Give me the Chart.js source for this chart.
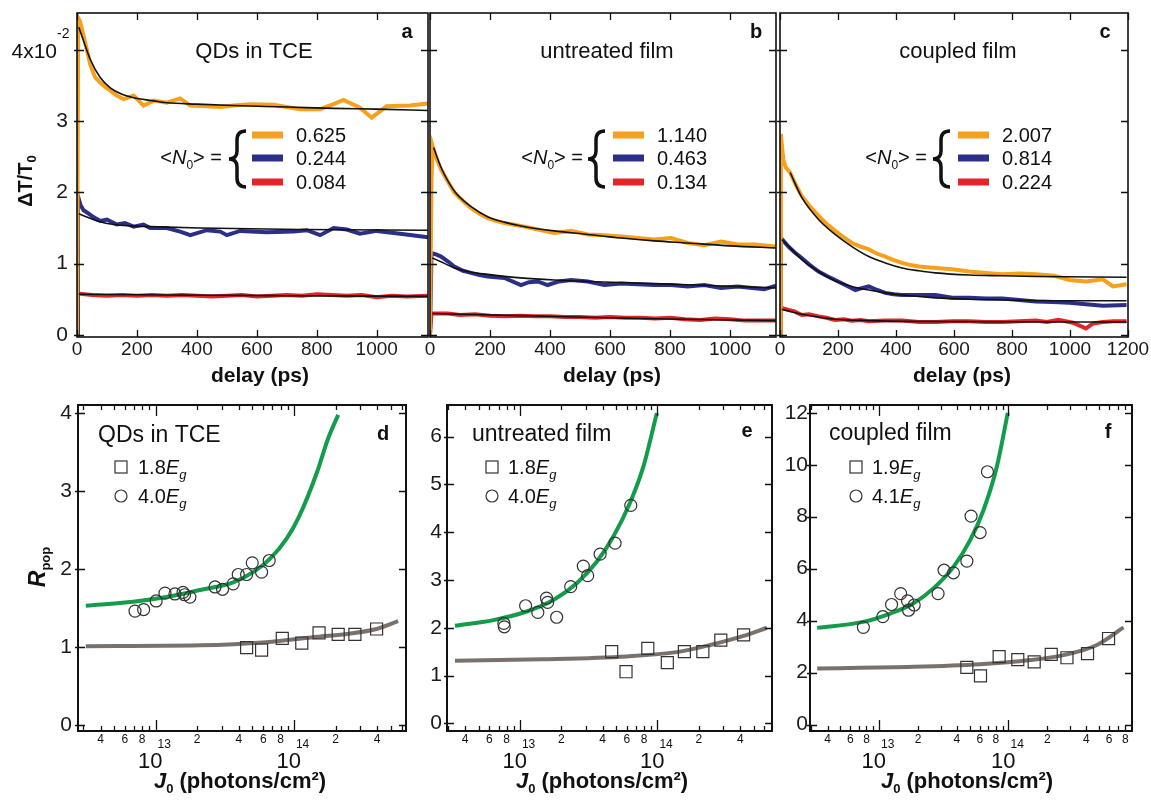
<!DOCTYPE html>
<html>
<head>
<meta charset="utf-8">
<script src="https://cdn.jsdelivr.net/npm/chart.js@4.4.0/dist/chart.umd.min.js"></script>
<style>
  html, body { margin: 0; padding: 0; background: #fff; }
  #wrap { position: relative; width: 1151px; height: 800px; overflow: hidden; }
  #wrap canvas { position: absolute; left: 0; top: 0; }
</style>
</head>
<body>
<div id="wrap">
  <canvas id="ca" width="1151" height="800"></canvas>
  <canvas id="cb" width="1151" height="800"></canvas>
  <canvas id="cc" width="1151" height="800"></canvas>
  <canvas id="cd" width="1151" height="800"></canvas>
  <canvas id="ce" width="1151" height="800"></canvas>
  <canvas id="cf" width="1151" height="800"></canvas>
</div>
<script>
// Transient traces: [delay (ps), ΔT/T0 (x1e-2)]
const aOrange = [[0,0],[4,4.45],[10,4.4],[22,4.2],[44,3.8],[60,3.62],[78,3.54],[95,3.48],[111,3.43],[133,3.36],[156,3.31],[189,3.36],[222,3.22],[256,3.29],[300,3.26],[344,3.32],[378,3.22],[433,3.21],[478,3.2],[522,3.22],[578,3.24],[656,3.23],[744,3.17],[811,3.17],[856,3.24],[889,3.3],[944,3.19],[983,3.05],[1033,3.21],[1111,3.22],[1171,3.25]];
const aOrangeFit = [[6,4.32],[20,4.15],[44,3.87],[78,3.61],[111,3.47],[150,3.38],[189,3.33],[250,3.29],[300,3.26],[400,3.24],[522,3.22],[700,3.2],[856,3.18],[1000,3.17],[1171,3.15]];
const aBlue = [[0,0],[3,1.95],[12,1.82],[22,1.75],[40,1.7],[56,1.65],[78,1.6],[100,1.62],[133,1.55],[160,1.57],[189,1.52],[222,1.55],[244,1.5],[300,1.5],[344,1.45],[378,1.4],[433,1.47],[478,1.45],[500,1.4],[544,1.46],[633,1.44],[722,1.45],[767,1.47],[811,1.4],[856,1.5],[900,1.48],[944,1.42],[1000,1.46],[1078,1.42],[1171,1.37]];
const aBlueFit = [[6,1.7],[30,1.66],[67,1.6],[122,1.55],[180,1.53],[244,1.52],[411,1.5],[744,1.48],[1171,1.47]];
const aRed = [[0,0],[3,0.58],[50,0.56],[100,0.55],[150,0.56],[200,0.55],[250,0.56],[300,0.55],[350,0.56],[400,0.55],[450,0.54],[500,0.55],[550,0.56],[600,0.54],[650,0.55],[700,0.56],[750,0.55],[800,0.57],[850,0.56],[900,0.55],[950,0.56],[1000,0.53],[1050,0.55],[1100,0.54],[1171,0.55]];
const aRedFit = [[6,0.57],[300,0.56],[700,0.55],[1171,0.54]];

const bOrange = [[0,0],[5,2.2],[9,2.65],[20,2.5],[37,2.32],[60,2.15],[81,2.0],[110,1.88],[137,1.78],[165,1.7],[192,1.64],[220,1.6],[248,1.57],[303,1.53],[359,1.48],[414,1.43],[470,1.46],[526,1.41],[581,1.4],[637,1.38],[692,1.36],[748,1.34],[803,1.36],[859,1.29],[914,1.26],[970,1.31],[1026,1.27],[1081,1.27],[1153,1.24]];
const bOrangeFit = [[12,2.63],[37,2.35],[81,2.02],[137,1.8],[192,1.66],[250,1.58],[303,1.53],[414,1.46],[526,1.41],[637,1.36],[748,1.32],[859,1.29],[1000,1.25],[1153,1.22]];
const bBlue = [[0,0],[5,1.15],[20,1.13],[37,1.1],[60,1.03],[81,0.96],[110,0.9],[137,0.87],[165,0.84],[192,0.82],[248,0.8],[303,0.7],[330,0.74],[359,0.75],[392,0.7],[430,0.75],[470,0.77],[526,0.75],[581,0.7],[637,0.72],[692,0.71],[748,0.7],[803,0.7],[859,0.68],[914,0.7],[970,0.66],[1026,0.68],[1114,0.64],[1153,0.69]];
const bBlueFit = [[8,1.08],[40,1.02],[81,0.94],[137,0.88],[192,0.85],[303,0.8],[414,0.77],[526,0.75],[748,0.72],[950,0.69],[1153,0.66]];
const bRed = [[0,0],[5,0.3],[60,0.3],[100,0.28],[150,0.29],[200,0.27],[250,0.26],[300,0.27],[350,0.26],[400,0.26],[450,0.25],[500,0.25],[550,0.24],[600,0.25],[650,0.24],[700,0.24],[750,0.23],[800,0.24],[850,0.22],[900,0.21],[950,0.23],[1000,0.22],[1050,0.2],[1100,0.2],[1153,0.2]];
const bRedFit = [[8,0.3],[300,0.27],[700,0.23],[1153,0.2]];

const cOrange = [[0,0],[3,2.82],[8,2.6],[12,2.45],[20,2.35],[35,2.28],[55,2.1],[75,1.95],[100,1.82],[133,1.67],[160,1.56],[190,1.46],[220,1.37],[248,1.29],[278,1.24],[306,1.2],[335,1.14],[363,1.1],[392,1.05],[421,1.01],[450,0.98],[479,0.96],[536,0.94],[594,0.92],[652,0.89],[710,0.87],[767,0.85],[825,0.86],[882,0.85],[946,0.83],[998,0.77],[1055,0.75],[1113,0.78],[1148,0.68],[1195,0.71]];
const cOrangeFit = [[35,2.28],[75,1.93],[133,1.62],[190,1.41],[248,1.24],[306,1.1],[363,1.01],[421,0.94],[479,0.9],[536,0.87],[652,0.84],[767,0.83],[882,0.82],[1195,0.81]];
const cBlue = [[0,0],[3,1.36],[12,1.32],[29,1.24],[50,1.16],[75,1.08],[100,0.99],[133,0.89],[160,0.83],[190,0.77],[225,0.7],[260,0.63],[285,0.66],[306,0.68],[335,0.63],[363,0.59],[392,0.57],[421,0.56],[479,0.56],[536,0.56],[594,0.52],[652,0.52],[710,0.51],[767,0.51],[825,0.49],[882,0.47],[940,0.46],[998,0.45],[1055,0.43],[1113,0.41],[1195,0.42]];
const cBlueFit = [[6,1.34],[40,1.2],[75,1.06],[133,0.89],[190,0.76],[248,0.68],[306,0.63],[363,0.59],[421,0.56],[536,0.52],[652,0.5],[767,0.49],[1000,0.48],[1195,0.48]];
const cRed = [[0,0],[3,0.38],[30,0.35],[50,0.33],[75,0.28],[100,0.29],[133,0.26],[160,0.24],[190,0.21],[220,0.22],[248,0.2],[278,0.21],[306,0.19],[363,0.2],[421,0.2],[479,0.18],[536,0.18],[594,0.19],[652,0.19],[710,0.18],[767,0.18],[825,0.19],[882,0.2],[920,0.18],[960,0.21],[1010,0.17],[1055,0.09],[1080,0.16],[1113,0.18],[1150,0.19],[1195,0.19]];
const cRedFit = [[6,0.36],[75,0.29],[133,0.25],[190,0.22],[306,0.2],[421,0.19],[1195,0.18]];

const n0A = ['0.625', '0.244', '0.084'];
const n0B = ['1.140', '0.463', '0.134'];
const n0C = ['2.007', '0.814', '0.224'];

const delayTicks = [0, 200, 400, 600, 800, 1000, 1200];
const dtTicks = [0, 1, 2, 3, 4];

// R_pop vs J0 (photons/cm^2): [J0, Rpop]
const dCircles = [[7.1e12,1.46],[8.2e12,1.48],[1.01e13,1.59],[1.17e13,1.69],[1.38e13,1.68],[1.58e13,1.70],[1.62e13,1.67],[1.77e13,1.64],[2.69e13,1.77],[3.05e13,1.74],[3.64e13,1.81],[3.96e13,1.93],[4.55e13,1.93],[5.0e13,2.08],[5.84e13,1.96],[6.63e13,2.11]];
const dSquares = [[4.55e13,0.99],[5.84e13,0.96],[8.24e13,1.11],[1.14e14,1.05],[1.52e14,1.18],[2.09e14,1.16],[2.76e14,1.16],[3.96e14,1.23]];
const dFitHigh = [[3.13e12,1.53],[6.9e12,1.58],[1.2e13,1.64],[2.09e13,1.73],[3.64e13,1.83],[5.08e13,1.96],[6.7e13,2.13],[8.86e13,2.39],[1.1e14,2.69],[1.46e14,3.23],[1.77e14,3.68],[2.09e14,3.98]];
const dFitLow = [[3.13e12,1.01],[2.09e13,1.02],[6.3e13,1.06],[1.46e14,1.13],[2.5e14,1.17],[3.96e14,1.23],[5.67e14,1.33]];

const eCircles = [[7.64e12,2.09],[7.7e12,2.02],[1.1e13,2.46],[1.35e13,2.32],[1.56e13,2.62],[1.59e13,2.53],[1.85e13,2.22],[2.34e13,2.86],[2.89e13,3.29],[3.11e13,3.09],[3.83e13,3.54],[4.92e13,3.77],[6.4e13,4.56]];
const eSquares = [[4.65e13,1.50],[5.91e13,1.08],[8.51e13,1.57],[1.18e14,1.27],[1.57e14,1.50],[2.14e14,1.50],[2.89e14,1.74],[4.23e14,1.85]];
const eFitHigh = [[3.37e12,2.04],[6.4e12,2.16],[1.12e13,2.34],[1.75e13,2.58],[2.59e13,2.93],[3.62e13,3.38],[4.78e13,3.91],[6.31e13,4.61],[7.9e13,5.37],[9.9e13,6.49]];
const eFitLow = [[3.37e12,1.31],[1.48e13,1.34],[5.98e13,1.40],[1.38e14,1.49],[2.42e14,1.64],[4.23e14,1.83],[6.25e14,2.0]];

const fCircles = [[7.57e12,3.74],[1.07e13,4.15],[1.25e13,4.62],[1.47e13,5.04],[1.66e13,4.76],[1.69e13,4.40],[1.87e13,4.60],[2.86e13,5.04],[3.18e13,5.94],[3.76e13,5.84],[4.77e13,6.29],[5.14e13,8.02],[6.04e13,7.39],[6.88e13,9.73]];
const fSquares = [[4.77e13,2.20],[6.08e13,1.87],[8.47e13,2.61],[1.18e14,2.50],[1.58e14,2.41],[2.14e14,2.70],[2.83e14,2.57],[4.08e14,2.73],[5.93e14,3.31]];
const fFitHigh = [[3.33e12,3.72],[7.57e12,3.95],[1.22e13,4.27],[1.84e13,4.66],[2.63e13,5.24],[3.76e13,6.07],[5.06e13,7.1],[6.41e13,8.25],[8.13e13,9.92],[9.88e13,12.0]];
const fFitLow = [[3.33e12,2.16],[1.84e13,2.22],[6.04e13,2.32],[1.47e14,2.48],[2.66e14,2.67],[4.82e14,3.06],[7.74e14,3.74]];

// log axis tick labels
const minorLabelsDE = [[4e12,'4'],[6e12,'6'],[8e12,'8'],[2e13,'2'],[4e13,'4'],[6e13,'6'],[8e13,'8'],[2e14,'2'],[4e14,'4']];
const minorLabelsF = [[4e12,'4'],[6e12,'6'],[8e12,'8'],[2e13,'2'],[4e13,'4'],[6e13,'6'],[8e13,'8'],[2e14,'2'],[4e14,'4'],[6e14,'6'],[8e14,'8']];
const decadeLabels = [[1e13,'13'],[1e14,'14']];

const W = 1151, H = 800, Y_W = 40, X_H = 30;
const FONT = '"Liberation Sans", Arial, Helvetica, sans-serif';
const ORANGE = '#f6a01c', NAVY = '#2b2f88', RED = '#e2242b', GREEN = '#139c4a', GREY = '#7b716b';
Chart.defaults.font.family = FONT;
Chart.defaults.color = '#1a1a1a';

const decoById = {};

function pts(arr) { return arr.map(p => ({ x: p[0], y: p[1] })); }

function traceDs(arr, color) {
  return { data: pts(arr), showLine: true, borderColor: color, borderWidth: 4, pointRadius: 0, order: 2 };
}
function fitDs(arr, color, width) {
  return { data: pts(arr), showLine: true, borderColor: color, borderWidth: width, pointRadius: 0,
           cubicInterpolationMode: 'monotone', order: 1 };
}
function markDs(arr, style, r) {
  return { data: pts(arr), showLine: false, pointStyle: style, pointRadius: r, pointBorderWidth: 1.2,
           pointBorderColor: '#333', pointBackgroundColor: 'rgba(0,0,0,0)', order: 0 };
}

// fixed tick values, kept inside the axis range
function fixedTicks(vals) {
  return scale => { scale.ticks = vals.filter(v => v >= scale.min && v <= scale.max).map(v => ({ value: v })); };
}
// fixed axis size, and no extra room asked for the end labels
function fixY(s) { s.width = Y_W; s.paddingTop = 0; s.paddingBottom = 0; }
function fixX(s) { s.height = X_H; }

// draw a run of text pieces: [text, font, dy]
function runs(ctx, x, y, parts, align) {
  let total = 0;
  parts.forEach(p => { ctx.font = p[1]; total += ctx.measureText(p[0]).width; });
  let cx = align === 'center' ? x - total / 2 : align === 'right' ? x - total : x;
  ctx.textAlign = 'left';
  ctx.textBaseline = 'alphabetic';
  parts.forEach(p => {
    ctx.font = p[1];
    ctx.fillText(p[0], cx, y + (p[2] || 0));
    cx += ctx.measureText(p[0]).width;
  });
}

function brace(ctx, bx, top, bottom) {
  const mid = (top + bottom) / 2;
  ctx.beginPath();
  ctx.moveTo(bx + 17, top);
  ctx.quadraticCurveTo(bx + 8, top, bx + 8, top + 9);
  ctx.lineTo(bx + 8, mid - 8);
  ctx.quadraticCurveTo(bx + 8, mid, bx, mid);
  ctx.quadraticCurveTo(bx + 8, mid, bx + 8, mid + 8);
  ctx.lineTo(bx + 8, bottom - 9);
  ctx.quadraticCurveTo(bx + 8, bottom, bx + 17, bottom);
  ctx.lineWidth = 3.5;
  ctx.stroke();
}

const deco = {
  id: 'deco',
  afterDraw(chart) {
    const d = decoById[chart.canvas.id];
    if (!d) return;
    const ctx = chart.ctx, a = chart.chartArea, xs = chart.scales.x, ys = chart.scales.y;
    ctx.save();
    ctx.strokeStyle = '#111';
    ctx.fillStyle = '#111';
    ctx.lineWidth = d.frameW;
    ctx.strokeRect(a.left, a.top, a.right - a.left, a.bottom - a.top);
    ctx.lineWidth = 1.3;
    ctx.beginPath();
    d.xTicks.forEach(t => {
      const px = Math.round(xs.getPixelForValue(t[0])) + 0.5;
      ctx.moveTo(px, a.bottom); ctx.lineTo(px, a.bottom - t[1]);
      ctx.moveTo(px, a.top); ctx.lineTo(px, a.top + t[1]);
    });
    d.yTicks.forEach(v => {
      const py = Math.round(ys.getPixelForValue(v)) + 0.5;
      ctx.moveTo(a.left - 3, py); ctx.lineTo(a.left + 7, py);
      ctx.moveTo(a.right, py); ctx.lineTo(a.right - 7, py);
    });
    ctx.stroke();
    d.draw(ctx, chart);
    ctx.restore();
  }
};

function makeChart(id, area, xScale, yScale, datasets, d) {
  decoById[id] = d;
  return new Chart(document.getElementById(id), {
    type: 'scatter',
    data: { datasets: datasets },
    options: {
      responsive: false,
      animation: false,
      devicePixelRatio: 1,
      events: [],
      layout: { padding: { left: area[0] - Y_W, top: area[1], right: W - area[2], bottom: H - area[3] - X_H } },
      plugins: { legend: { display: false }, tooltip: { enabled: false } },
      scales: { x: xScale, y: yScale }
    },
    plugins: [deco]
  });
}

// ---------- top row ----------
function topX(max) {
  return {
    type: 'linear', min: 0, max: max,
    afterBuildTicks: fixedTicks(delayTicks),
    ticks: { autoSkip: false, maxRotation: 0, padding: 1, font: { size: 19 }, callback: v => String(v) },
    grid: { display: false, drawTicks: false }, border: { display: false },
    afterFit: fixX
  };
}
function topY(show) {
  return {
    type: 'linear', min: -0.03, max: 4.52,
    afterBuildTicks: fixedTicks(dtTicks),
    ticks: { display: show, padding: 9, font: { size: 21 }, callback: v => (v === 4 ? '' : String(v)) },
    grid: { display: false, drawTicks: false }, border: { display: false },
    afterFit: fixY
  };
}

const topPanels = [
  { id: 'ca', area: [77, 13, 428, 337], max: 1171, yLab: true, title: 'QDs in TCE', tx: 254, letter: 'a', lx: 407,
    xt: 260, n0: n0A, legR: 222, bx: 229, sw: 252, vx: 296,
    tr: [aOrange, aBlue, aRed], fit: [aOrangeFit, aBlueFit, aRedFit] },
  { id: 'cb', area: [430, 13, 776, 337], max: 1153, yLab: false, title: 'untreated film', tx: 607, letter: 'b', lx: 756,
    xt: 612, n0: n0B, legR: 583, bx: 588, sw: 613, vx: 657,
    tr: [bOrange, bBlue, bRed], fit: [bOrangeFit, bBlueFit, bRedFit] },
  { id: 'cc', area: [780, 13, 1128, 337], max: 1200, yLab: false, title: 'coupled film', tx: 958, letter: 'c', lx: 1105,
    xt: 962, n0: n0C, legR: 927, bx: 933, sw: 958, vx: 1002,
    tr: [cOrange, cBlue, cRed], fit: [cOrangeFit, cBlueFit, cRedFit] }
];
const traceColors = [ORANGE, NAVY, RED];

topPanels.forEach(p => {
  const ds = [];
  p.fit.forEach(f => ds.push(fitDs(f, '#111', 1.6)));
  p.tr.forEach((t, i) => ds.push(traceDs(t, traceColors[i])));
  makeChart(p.id, p.area, topX(p.max), topY(p.yLab), ds, {
    frameW: 1.6,
    xTicks: delayTicks.filter(v => v <= p.max).map(v => [v, 7]),
    yTicks: dtTicks,
    draw(ctx) {
      runs(ctx, p.tx, 58, [[p.title, '22px ' + FONT]], 'center');
      runs(ctx, p.lx, 38, [[p.letter, 'bold 20px ' + FONT]], 'center');
      runs(ctx, p.xt, 382, [['delay (ps)', 'bold 21px ' + FONT]], 'center');
      // <N0> legend
      runs(ctx, p.legR, 164, [['<', '20px ' + FONT], ['N', 'italic 20px ' + FONT], ['0', '12px ' + FONT, 5],
                              ['> =', '20px ' + FONT]], 'right');
      brace(ctx, p.bx, 131, 187);
      [135, 158, 182].forEach((y, i) => {
        ctx.save();
        ctx.strokeStyle = traceColors[i];
        ctx.lineWidth = 7;
        ctx.beginPath(); ctx.moveTo(p.sw, y); ctx.lineTo(p.sw + 31, y); ctx.stroke();
        ctx.restore();
        runs(ctx, p.vx, y + 7, [[p.n0[i], '20px ' + FONT]], 'left');
      });
      if (p.yLab) {
        runs(ctx, 57, 58, [['4x10', '21px ' + FONT]], 'right');
        runs(ctx, 57, 38, [['-2', '14px ' + FONT]], 'left');
        ctx.save();
        ctx.translate(32, 181);
        ctx.rotate(-Math.PI / 2);
        runs(ctx, 0, 0, [['\u0394T/T', 'bold 20px ' + FONT], ['0', 'bold 13px ' + FONT, 4]], 'center');
        ctx.restore();
      }
    }
  });
});

// ---------- bottom row ----------
function logX(min, max) {
  return {
    type: 'logarithmic', min: min, max: max,
    ticks: { display: false },
    grid: { display: false, drawTicks: false }, border: { display: false },
    afterFit: fixX
  };
}
function botY(min, max, vals, pad) {
  return {
    type: 'linear', min: min, max: max,
    afterBuildTicks: fixedTicks(vals),
    ticks: { padding: pad, font: { size: 21 }, callback: v => String(v) },
    grid: { display: false, drawTicks: false }, border: { display: false },
    afterFit: fixY
  };
}
function logTicks(min, max) {
  const t = [];
  for (let e = 12; e <= 14; e++) {
    for (let k = 1; k <= 9; k++) {
      const v = k * Math.pow(10, e);
      if (v > min && v < max) t.push([v, k === 1 ? 11 : 5]);
    }
  }
  return t;
}

const botPanels = [
  { id: 'cd', area: [78, 405, 406, 731], xmin: 2.75e12, xmax: 6.46e14, ymin: -0.08, ymax: 4.107, pad: 6,
    yTicks: [0, 1, 2, 3, 4], minor: minorLabelsDE, title: 'QDs in TCE', tl: 98, tb: 442, letter: 'd', lx: 383, lb: 440,
    mx: 121, tx: 138, e1: '1.8', e2: '4.0', xt: 240, ry: true,
    c: dCircles, s: dSquares, hi: dFitHigh, lo: dFitLow },
  { id: 'ce', area: [447, 405, 772, 731], xmin: 2.95e12, xmax: 6.81e14, ymin: -0.16, ymax: 6.66, pad: 5,
    yTicks: [0, 1, 2, 3, 4, 5, 6], minor: minorLabelsDE, title: 'untreated film', tl: 472, tb: 441, letter: 'e', lx: 747, lb: 437,
    mx: 492, tx: 508, e1: '1.8', e2: '4.0', xt: 602, ry: false,
    c: eCircles, s: eSquares, hi: eFitHigh, lo: eFitLow },
  { id: 'cf', area: [810, 405, 1132, 731], xmin: 2.93e12, xmax: 9.0e14, ymin: -0.25, ymax: 12.3, pad: 2,
    yTicks: [0, 2, 4, 6, 8, 10, 12], minor: minorLabelsF, title: 'coupled film', tl: 829, tb: 440, letter: 'f', lx: 1108, lb: 438,
    mx: 856, tx: 872, e1: '1.9', e2: '4.1', xt: 967, ry: false,
    c: fCircles, s: fSquares, hi: fFitHigh, lo: fFitLow }
];

botPanels.forEach(p => {
  const ds = [
    markDs(p.s, 'rect', 8.5),
    markDs(p.c, 'circle', 6),
    fitDs(p.hi, GREEN, 4),
    fitDs(p.lo, GREY, 4)
  ];
  makeChart(p.id, p.area, logX(p.xmin, p.xmax), botY(p.ymin, p.ymax, p.yTicks, p.pad), ds, {
    frameW: 2,
    xTicks: logTicks(p.xmin, p.xmax),
    yTicks: p.yTicks,
    draw(ctx, chart) {
      const xs = chart.scales.x;
      p.minor.forEach(m => {
        runs(ctx, xs.getPixelForValue(m[0]), 743, [[m[1], '12px ' + FONT]], 'center');
      });
      decadeLabels.forEach(m => {
        const px = xs.getPixelForValue(m[0]);
        runs(ctx, px + 7, 768, [['10', '22px ' + FONT]], 'right');
        runs(ctx, px + 2, 748, [[m[1], '12px ' + FONT]], 'left');
      });
      runs(ctx, p.xt, 788, [['J', 'bold italic 22px ' + FONT], ['0', 'bold 13px ' + FONT, 5],
                            [' (photons/cm\u00b2)', 'bold 22px ' + FONT]], 'center');
      runs(ctx, p.tl, p.tb, [[p.title, '23px ' + FONT]], 'left');
      runs(ctx, p.lx, p.lb, [[p.letter, 'bold 20px ' + FONT]], 'center');
      // legend markers
      ctx.lineWidth = 1.2;
      ctx.strokeStyle = '#333';
      ctx.strokeRect(p.mx - 6, 467 - 6, 12, 12);
      ctx.beginPath(); ctx.arc(p.mx, 496, 6, 0, Math.PI * 2); ctx.stroke();
      runs(ctx, p.tx, 474, [[p.e1, '20px ' + FONT], ['E', 'italic 20px ' + FONT], ['g', 'italic 13px ' + FONT, 5]], 'left');
      runs(ctx, p.tx, 503, [[p.e2, '20px ' + FONT], ['E', 'italic 20px ' + FONT], ['g', 'italic 13px ' + FONT, 5]], 'left');
      if (p.ry) {
        ctx.save();
        ctx.translate(45, 567);
        ctx.rotate(-Math.PI / 2);
        runs(ctx, 0, 0, [['R', 'bold italic 23px ' + FONT], ['pop', 'bold 13px ' + FONT, 5]], 'center');
        ctx.restore();
      }
    }
  });
});
</script>
</body>
</html>
